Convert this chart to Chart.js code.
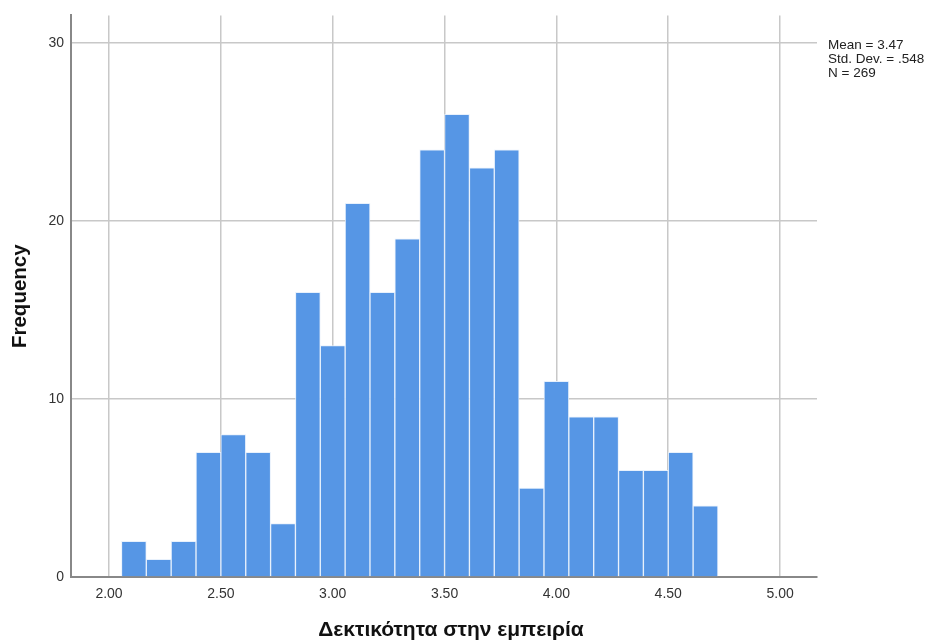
<!DOCTYPE html>
<html>
<head>
<meta charset="utf-8">
<title>Histogram</title>
<script src="https://cdn.jsdelivr.net/npm/chart.js@4"></script>
<style>
  html, body { margin: 0; padding: 0; background: #fff; }
  #wrap { width: 931px; height: 643px; position: relative; }
</style>
</head>
<body>
<div id="wrap"><canvas id="hist"></canvas></div>
<script>
const binCenters = [2.1111, 2.2222, 2.3333, 2.4444, 2.5556, 2.6667, 2.7778, 2.8889,
                    3.0000, 3.1111, 3.2222, 3.3333, 3.4444, 3.5556, 3.6667, 3.7778,
                    3.8889, 4.0000, 4.1111, 4.2222, 4.3333, 4.4444, 4.5556, 4.6667];
const counts = [2, 1, 2, 7, 8, 7, 3, 16, 13, 21, 16, 19, 24, 26, 23, 24, 5, 11, 9, 9, 6, 6, 7, 4];
const xTicks = [2.0, 2.5, 3.0, 3.5, 4.0, 4.5, 5.0];
const yTicks = [0, 10, 20, 30];
const statLines = ['Mean = 3.47', 'Std. Dev. = .548', 'N = 269'];
const xTitle = 'Δεκτικότητα στην εμπειρία';

// SPSS puts the summary box right of the plot and the x title a bit off-centre
const extraText = {
    id: 'extraText',
    afterDraw(chart) {
        const ctx = chart.ctx;
        const area = chart.chartArea;
        ctx.save();
        ctx.font = '13.5px "Liberation Sans", Arial, sans-serif';
        ctx.fillStyle = '#222';
        ctx.textBaseline = 'middle';
        ctx.textAlign = 'left';
        statLines.forEach((line, i) => {
            ctx.fillText(line, area.right + 11, 45 + i * 14);
        });
        ctx.font = 'bold 21px "Liberation Sans", Arial, sans-serif';
        ctx.fillStyle = '#111';
        ctx.textAlign = 'center';
        ctx.fillText(xTitle, (area.left + area.right) / 2 + 7, 630);
        ctx.restore();
    }
};

new Chart(document.getElementById('hist'), {
    type: 'bar',
    data: {
        datasets: [{
            label: 'Frequency',
            data: binCenters.map((x, i) => ({ x: x, y: counts[i] })),
            backgroundColor: 'rgb(86, 150, 229)',
            borderColor: 'rgba(230, 240, 252, 0.9)',
            borderWidth: 1,
            barPercentage: 1,
            categoryPercentage: 1
        }]
    },
    options: {
        responsive: true,
        maintainAspectRatio: false,
        animation: false,
        layout: { padding: { top: 13, right: 114, left: 0, bottom: 0 } },
        plugins: {
            legend: { display: false },
            tooltip: { enabled: false }
        },
        scales: {
            x: {
                type: 'linear',
                min: 1.83,
                max: 5.165,
                offset: false,
                afterBuildTicks: scale => { scale.ticks = xTicks.map(v => ({ value: v })); },
                afterFit: scale => { scale.height = 66; },
                grid: { color: '#c8c8c8', lineWidth: 1.5, drawTicks: false, offset: false },
                border: { color: '#888', width: 2 },
                ticks: {
                    padding: 9,
                    color: '#333',
                    font: { family: '"Liberation Sans", Arial, sans-serif', size: 14 },
                    callback: v => v.toFixed(2)
                }
            },
            y: {
                min: 0,
                max: 31.56,
                afterBuildTicks: scale => { scale.ticks = yTicks.map(v => ({ value: v })); },
                afterFit: scale => { scale.width = 71; },
                grid: { color: '#c8c8c8', lineWidth: 1.5, drawTicks: false },
                border: { color: '#888', width: 2 },
                ticks: {
                    padding: 7,
                    color: '#333',
                    font: { family: '"Liberation Sans", Arial, sans-serif', size: 14 }
                },
                title: {
                    display: true,
                    text: 'Frequency',
                    color: '#111',
                    padding: { top: 8, bottom: 0 },
                    font: { family: '"Liberation Sans", Arial, sans-serif', size: 20.5, weight: 'bold' }
                }
            }
        }
    },
    plugins: [extraText]
});
</script>
</body>
</html>
